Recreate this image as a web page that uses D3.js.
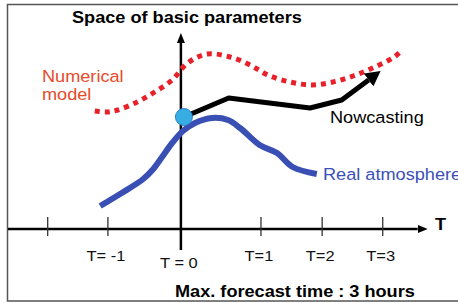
<!DOCTYPE html>
<html>
<head>
<meta charset="utf-8">
<script src="https://cdn.jsdelivr.net/npm/d3@7"></script>
<style>
  html, body { margin: 0; padding: 0; background: #fff; }
  svg { display: block; font-family: "Liberation Sans", Arial, sans-serif; }
</style>
</head>
<body>
<div id="chart"></div>
<script>
// Time in hours (0 = now), parameter value in arbitrary units.
const numModelT = [-1.28, -1.1, -0.94, -0.65, -0.39, -0.13, 0.10, 0.39, 0.73, 1.03, 1.29, 1.62, 1.95, 2.26, 2.56, 2.85, 3.15, 3.26];
const numModelV = [59, 58.5, 59.5, 63.5, 68.5, 74.5, 83, 87.5, 86, 82, 77, 73.5, 72, 73.5, 76.5, 80.5, 85.5, 88.5];

const realT = [-1.20, -0.88, -0.56, -0.41, -0.28, -0.13, 0.03, 0.21, 0.46, 0.70, 0.88, 1.17, 1.43, 1.66, 2.02];
const realV = [11.5, 18, 25, 30, 36, 43, 49, 53, 55.5, 54.5, 50.5, 42, 38, 31, 27.5];

const nowcastT = [0.045, 0.71, 1.92, 2.39, 2.79];
const nowcastV = [56, 65.5, 60.5, 64.5, 74.5];

const tickHours = [-1.98, -1.085, 0, 1.19, 2.10, 3.0];
const tickLabels = ["", "T= -1", "T = 0", "T=1", "T=2", "T=3"];

const width = 458, height = 303;

const x = d3.scaleLinear().domain([-2.57, 4]).range([8, 450]);
const y = d3.scaleLinear().domain([0, 100]).range([229, 29]);

const svg = d3.select('#chart').append('svg')
  .attr('width', width)
  .attr('height', height);

// Arrow heads.
const defs = svg.append('defs');
function arrow(id, len, half) {
  defs.append('marker')
    .attr('id', id)
    .attr('markerUnits', 'userSpaceOnUse')
    .attr('viewBox', `0 ${-half} ${len} ${half * 2}`)
    .attr('refX', 0)
    .attr('refY', 0)
    .attr('markerWidth', len)
    .attr('markerHeight', half * 2)
    .attr('orient', 'auto')
    .append('path')
    .attr('d', `M0,${-half}L${len},0L0,${half}Z`)
    .attr('fill', '#000');
}
arrow('axisHead', 10, 4);
arrow('nowHead', 15, 8);

// Frame.
svg.append('rect')
  .attr('x', 7.5).attr('y', 4.5)
  .attr('width', 470).attr('height', 296.5)
  .attr('fill', 'none')
  .attr('stroke', '#555')
  .attr('stroke-width', 1.5);

// Time axis.
svg.append('line')
  .attr('x1', x(-2.57)).attr('x2', x(3.52))
  .attr('y1', y(0)).attr('y2', y(0))
  .attr('stroke', '#000').attr('stroke-width', 2.5)
  .attr('marker-end', 'url(#axisHead)');

// Parameter axis.
svg.append('line')
  .attr('x1', x(0)).attr('x2', x(0))
  .attr('y1', y(-10.5)).attr('y2', y(93))
  .attr('stroke', '#000').attr('stroke-width', 2.5)
  .attr('marker-end', 'url(#axisHead)');

// Ticks and labels.
const ticks = d3.range(tickHours.length).map(i => ({t: tickHours[i], label: tickLabels[i]}));
svg.append('g').selectAll('line')
  .data(ticks.filter(d => d.t !== 0))
  .join('line')
  .attr('x1', d => x(d.t)).attr('x2', d => x(d.t))
  .attr('y1', y(6)).attr('y2', y(-3.5))
  .attr('stroke', '#333').attr('stroke-width', 1.3);

svg.append('g').selectAll('text')
  .data(ticks)
  .join('text')
  .attr('transform', d => `translate(${x(d.t) - 2},${d.t === 0 ? 268 : 260.5}) scale(1.1,1)`)
  .attr('text-anchor', 'middle')
  .attr('font-size', 15)
  .attr('fill', '#111')
  .text(d => d.label);

svg.append('text')
  .attr('transform', 'translate(435,230) scale(1.1,1)')
  .attr('font-size', 16.5).attr('font-weight', 'bold')
  .text('T');

// Numerical model (dotted red).
svg.append('path')
  .datum(d3.zip(numModelT, numModelV))
  .attr('fill', 'none')
  .attr('stroke', '#e8202a')
  .attr('stroke-width', 5)
  .attr('stroke-dasharray', '5,5')
  .attr('d', d3.line().x(d => x(d[0])).y(d => y(d[1])).curve(d3.curveCatmullRom));

// Real atmosphere (blue).
svg.append('path')
  .datum(d3.zip(realT, realV))
  .attr('fill', 'none')
  .attr('stroke', '#3a4fb4')
  .attr('stroke-width', 6)
  .attr('stroke-linejoin', 'round')
  .attr('d', d3.line().x(d => x(d[0])).y(d => y(d[1])).curve(d3.curveCatmullRom.alpha(0.5)));

// Nowcasting (black arrow).
svg.append('path')
  .datum(d3.zip(nowcastT, nowcastV))
  .attr('fill', 'none')
  .attr('stroke', '#000')
  .attr('stroke-width', 5)
  .attr('stroke-linejoin', 'round')
  .attr('marker-end', 'url(#nowHead)')
  .attr('d', d3.line().x(d => x(d[0])).y(d => y(d[1])));

// Starting point.
svg.append('circle')
  .attr('cx', x(nowcastT[0])).attr('cy', y(nowcastV[0]))
  .attr('r', 8.5)
  .attr('fill', '#38ade4')
  .attr('stroke', '#2a85c8')
  .attr('stroke-width', 1);

// Texts.
function label(tx, ty, str, opts) {
  svg.append('text')
    .attr('transform', `translate(${tx},${ty}) scale(1.1,1)`)
    .attr('font-size', opts.size || 16.5)
    .attr('font-weight', opts.bold ? 'bold' : 'normal')
    .attr('fill', opts.color || '#000')
    .text(str);
}
label(72, 23, 'Space of basic parameters', {bold: true});
label(42, 82, 'Numerical', {color: '#e84a2a'});
label(42, 100, 'model', {color: '#e84a2a'});
label(330, 123, 'Nowcasting', {});
label(323, 180, 'Real atmosphere', {color: '#3a50b8'});
label(175, 296.5, 'Max. forecast time : 3 hours', {bold: true});
</script>
</body>
</html>
